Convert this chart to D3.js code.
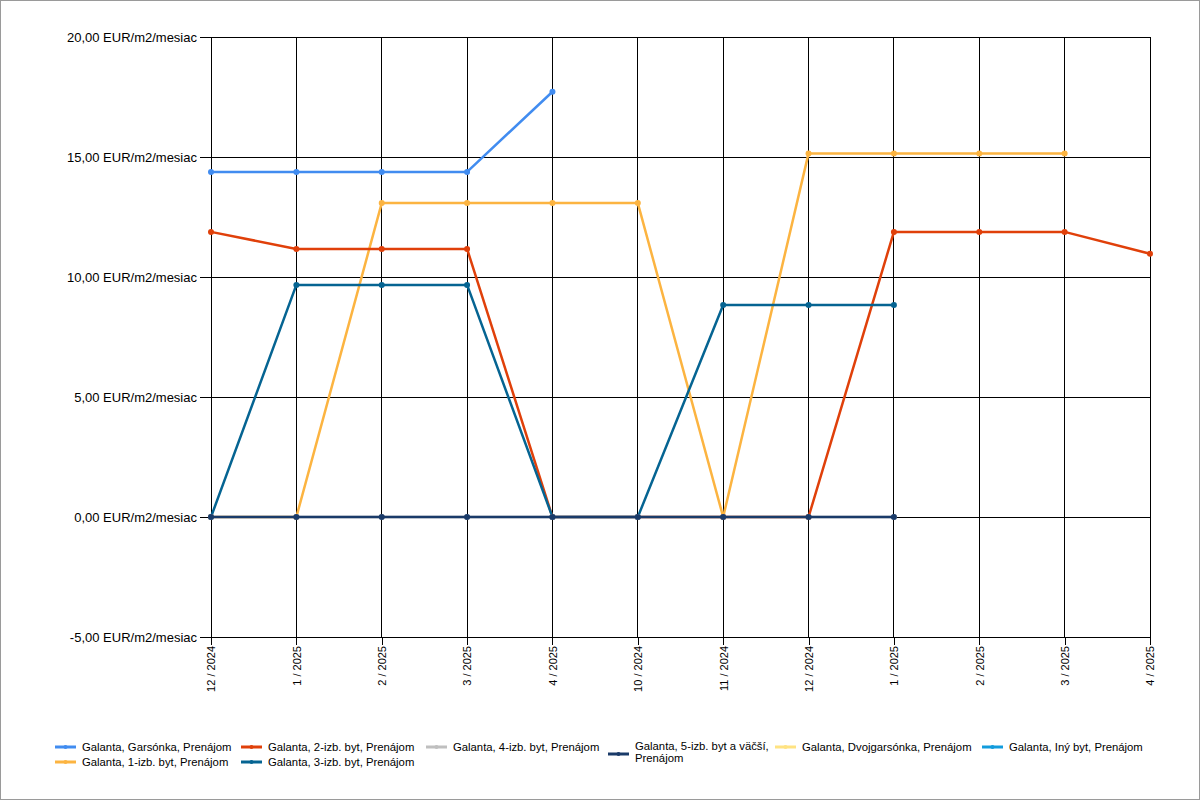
<!DOCTYPE html>
<html>
<head>
<meta charset="utf-8">
<script src="https://cdn.jsdelivr.net/npm/d3@7"></script>
<style>
  html, body { margin: 0; padding: 0; background: #fff; }
  svg { display: block; }
  text { font-family: "Liberation Sans", Arial, sans-serif; fill: #000; }
</style>
</head>
<body>
<svg id="chart" width="1200" height="800"></svg>
<script>
// ---- Data ----
const categories = ["12 / 2024", "1 / 2025", "2 / 2025", "3 / 2025", "4 / 2025", "10 / 2024",
                    "11 / 2024", "12 / 2024", "1 / 2025", "2 / 2025", "3 / 2025", "4 / 2025"];
const yTicks = [-5, 0, 5, 10, 15, 20];

const seriesNames = [
  "Galanta, Garsónka, Prenájom",
  "Galanta, 1-izb. byt, Prenájom",
  "Galanta, 2-izb. byt, Prenájom",
  "Galanta, 3-izb. byt, Prenájom",
  "Galanta, 4-izb. byt, Prenájom",
  "Galanta, 5-izb. byt a väčší, Prenájom",
  "Galanta, Dvojgarsónka, Prenájom",
  "Galanta, Iný byt, Prenájom"
];
const garsonka   = [14.38, 14.38, 14.38, 14.38, 17.72, null, null, null, null, null, null, null];
const izb1       = [0, 0, 13.08, 13.08, 13.08, 13.08, 0, 15.15, 15.15, 15.15, 15.15, null];
const izb2       = [11.88, 11.17, 11.17, 11.17, 0, 0, 0, 0, 11.88, 11.88, 11.88, 10.97];
const izb3       = [0, 9.67, 9.67, 9.67, 0, 0, 8.83, 8.83, 8.83, null, null, null];
const izb4       = [0, 0, 0, 0, 0, 0, 0, 0, 0, null, null, null];
const izb5       = [0, 0, 0, 0, 0, 0, 0, 0, 0, null, null, null];
const dvojgars   = [null, null, null, null, null, null, null, null, null, null, null, null];
const inyByt     = [null, null, null, null, null, null, null, null, null, null, null, null];
const seriesValues = [garsonka, izb1, izb2, izb3, izb4, izb5, dvojgars, inyByt];

// ---- Styles ----
const colors = ["#418CF0", "#FCB441", "#E0400A", "#056492", "#BFBFBF", "#1A3B69", "#FFE382", "#129CDD"];

const W = 1200, H = 800;
const plot = { left: 211, right: 1150, top: 37, bottom: 637 };

const svg = d3.select("#chart");
svg.append("rect").attr("x", 0.5).attr("y", 0.5).attr("width", W - 1).attr("height", H - 1)
  .attr("fill", "#fff").attr("stroke", "#9a9a9a");

const x = d3.scalePoint().domain(d3.range(categories.length)).range([plot.left, plot.right]);
const y = d3.scaleLinear().domain([d3.min(yTicks), d3.max(yTicks)]).range([plot.bottom, plot.top]);

const loc = d3.formatLocale({ decimal: ",", thousands: " ", grouping: [3], currency: ["", ""], minus: "-" });
const fmt = v => loc.format(".2f")(v) + " EUR/m2/mesiac";

// Gridlines
const grid = svg.append("g").attr("shape-rendering", "crispEdges");
grid.selectAll("line.h").data(yTicks).join("line")
  .attr("x1", plot.left).attr("x2", plot.right)
  .attr("y1", d => y(d)).attr("y2", d => y(d))
  .attr("stroke", "#000").attr("stroke-width", 1);
grid.selectAll("line.v").data(d3.range(categories.length)).join("line")
  .attr("y1", plot.top).attr("y2", plot.bottom)
  .attr("x1", d => x(d)).attr("x2", d => x(d))
  .attr("stroke", "#000").attr("stroke-width", 1);

// Axes
const yAxis = d3.axisLeft(y).tickValues(yTicks).tickFormat(fmt).tickSize(11).tickPadding(3);
const gy = svg.append("g").attr("transform", `translate(${plot.left},0)`).call(yAxis);
gy.select(".domain").attr("stroke", "#000");
gy.selectAll("text").style("font-size", "13px").attr("dy", "0.35em");
gy.attr("shape-rendering", "crispEdges");

const xAxis = d3.axisBottom(x).tickFormat(i => categories[i]).tickSize(8).tickSizeOuter(0);
const gx = svg.append("g").attr("transform", `translate(0,${plot.bottom})`).call(xAxis);
gx.attr("shape-rendering", "crispEdges");
gx.selectAll("text")
  .style("font-size", "11px")
  .attr("text-anchor", "end")
  .attr("transform", "rotate(-90)")
  .attr("x", -9).attr("y", 0).attr("dy", "0.35em");

// Lines
const line = d3.line()
  .defined(d => d.v !== null)
  .x(d => x(d.i)).y(d => y(d.v));

const seriesG = svg.append("g");
seriesValues.forEach((vals, s) => {
  const pts = vals.map((v, i) => ({ i, v }));
  const g = seriesG.append("g");
  g.append("path").datum(pts)
    .attr("d", line)
    .attr("fill", "none")
    .attr("stroke", colors[s])
    .attr("stroke-width", 2.5)
    .attr("stroke-linejoin", "round");
  g.selectAll("circle").data(pts.filter(d => d.v !== null)).join("circle")
    .attr("cx", d => x(d.i)).attr("cy", d => y(d.v)).attr("r", 3)
    .attr("fill", colors[s]);
});

// Legend
const legendCols = [55, 241, 426, 608, 775, 982];
const legendRows = [747, 762];
const legendItems = [
  { s: 0, col: 0, row: 0 }, { s: 1, col: 0, row: 1 },
  { s: 2, col: 1, row: 0 }, { s: 3, col: 1, row: 1 },
  { s: 4, col: 2, row: 0 }, { s: 5, col: 3, row: 0, wrap: ["Galanta, 5-izb. byt a väčší,", "Prenájom"] },
  { s: 6, col: 4, row: 0 }, { s: 7, col: 5, row: 0 }
];
const lg = svg.append("g");
legendItems.forEach(it => {
  const lx = legendCols[it.col], ly = legendRows[it.row];
  const g = lg.append("g");
  const midY = it.wrap ? ly + 7 : ly;
  g.append("line").attr("x1", lx).attr("x2", lx + 21).attr("y1", midY).attr("y2", midY)
    .attr("stroke", colors[it.s]).attr("stroke-width", 3);
  g.append("circle").attr("cx", lx + 10.5).attr("cy", midY).attr("r", 2).attr("fill", colors[it.s]);
  const t = g.append("text").attr("x", lx + 27).attr("y", ly).attr("dy", "0.35em").style("font-size", "11.3px");
  if (it.wrap) {
    t.attr("y", ly - 1);
    it.wrap.forEach((w, k) => t.append("tspan").attr("x", lx + 27).attr("dy", k === 0 ? "0.35em" : "1.1em").text(w));
  } else {
    t.text(seriesNames[it.s]);
  }
});
</script>
</body>
</html>
